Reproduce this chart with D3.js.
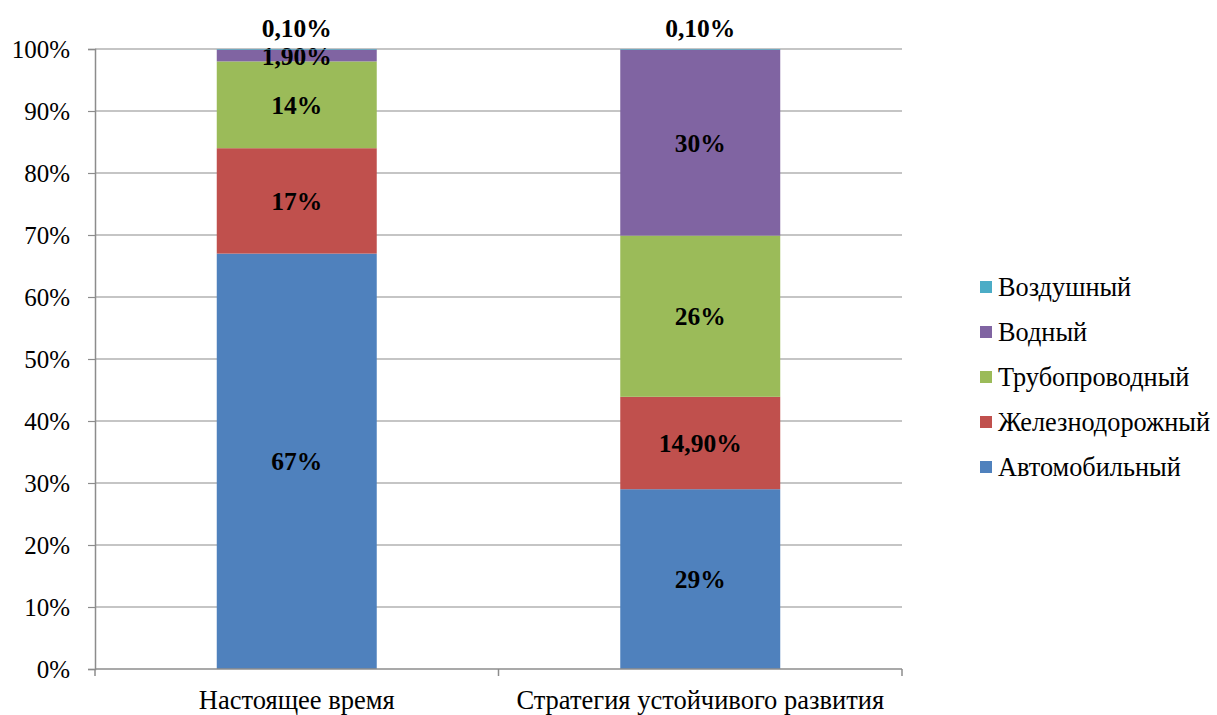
<!DOCTYPE html>
<html>
<head>
<meta charset="utf-8">
<script src="https://cdn.jsdelivr.net/npm/d3@7"></script>
<style>
  body { margin: 0; background: #fff; }
  svg text { font-family: "Liberation Serif", "Times New Roman", Times, Tinos, "Nimbus Roman", "DejaVu Serif", serif; }
</style>
</head>
<body>
<svg id="chart" width="1217" height="715"></svg>
<script>
// data
const categories = ['Настоящее время', 'Стратегия устойчивого развития'];
const seriesNames = ['Автомобильный', 'Железнодорожный', 'Трубопроводный', 'Водный', 'Воздушный'];
const automobile = [67, 29];
const railway = [17, 14.9];
const pipeline = [14, 26];
const water = [1.9, 30];
const air = [0.1, 0.1];
const valueLabels = [
    ['67%', '29%'],
    ['17%', '14,90%'],
    ['14%', '26%'],
    ['1,90%', '30%'],
    ['0,10%', '0,10%']
];
const yTicks = [0, 10, 20, 30, 40, 50, 60, 70, 80, 90, 100];

const colors = ['#4F81BD', '#C0504D', '#9BBB59', '#8064A2', '#4BACC6'];
const FONT = '"Liberation Serif", "Times New Roman", Times, Tinos, "Nimbus Roman", "DejaVu Serif", serif';

const MARGINS = { top: 49, bottom: 46, left: 95, right: 315 };
const WIDTH = 1217, HEIGHT = 715;

const svg = d3.select('#chart');

// build rows for stacking
const rows = categories.map((c, i) => ({
    category: c,
    s0: automobile[i], s1: railway[i], s2: pipeline[i], s3: water[i], s4: air[i]
}));
const stack = d3.stack().keys(['s0', 's1', 's2', 's3', 's4']);
const stacked = stack(rows);

const xScale = d3.scaleBand()
    .domain(categories)
    .range([MARGINS.left, WIDTH - MARGINS.right])
    .paddingInner(0.6035)
    .paddingOuter(0.30175);

const yScale = d3.scaleLinear()
    .domain([0, 100])
    .range([HEIGHT - MARGINS.bottom, MARGINS.top]);

// gridlines
svg.selectAll('line.grid')
    .data(yTicks.filter(d => d > 0))
    .join('line')
    .attr('class', 'grid')
    .attr('x1', MARGINS.left)
    .attr('x2', WIDTH - MARGINS.right)
    .attr('y1', d => yScale(d))
    .attr('y2', d => yScale(d))
    .attr('stroke', '#8c8c8c')
    .attr('stroke-width', 1.2);

// bars
const layers = svg.selectAll('g.layer')
    .data(stacked)
    .join('g')
    .attr('class', 'layer')
    .attr('fill', (d, i) => colors[i]);

layers.selectAll('rect')
    .data(d => d)
    .join('rect')
    .attr('x', d => xScale(d.data.category))
    .attr('y', d => yScale(d[1]))
    .attr('width', xScale.bandwidth())
    .attr('height', d => yScale(d[0]) - yScale(d[1]));

// y axis
const yAxis = d3.axisLeft(yScale)
    .tickValues(yTicks)
    .tickFormat(d => d + '%')
    .tickSize(7)
    .tickPadding(18);
const gy = svg.append('g')
    .attr('transform', `translate(${MARGINS.left},0)`)
    .call(yAxis)
    .attr('font-family', FONT);
gy.select('.domain').attr('stroke', '#8c8c8c').attr('stroke-width', 1.5);
gy.selectAll('.tick line').attr('stroke', '#8c8c8c').attr('stroke-width', 1.2);
gy.selectAll('.tick text')
    .attr('font-size', '25px')
    .attr('fill', '#000')
    .attr('dy', '0.33em');

// x axis
const gx = svg.append('g')
    .attr('transform', `translate(0,${HEIGHT - MARGINS.bottom})`);
gx.append('line')
    .attr('x1', MARGINS.left)
    .attr('x2', WIDTH - MARGINS.right)
    .attr('stroke', '#8c8c8c')
    .attr('stroke-width', 1.5);
const step = xScale.step();
const boundaries = [MARGINS.left].concat(categories.map(c => xScale(c) + xScale.bandwidth() / 2 + step / 2));
gx.selectAll('line.xtick')
    .data(boundaries)
    .join('line')
    .attr('class', 'xtick')
    .attr('x1', d => d).attr('x2', d => d)
    .attr('y1', 0).attr('y2', 7)
    .attr('stroke', '#8c8c8c')
    .attr('stroke-width', 1.5);
gx.selectAll('text')
    .data(categories)
    .join('text')
    .attr('x', d => xScale(d) + xScale.bandwidth() / 2)
    .attr('y', 40)
    .attr('text-anchor', 'middle')
    .attr('font-size', '26.5px')
    .attr('fill', '#000')
    .text(d => d);

// value labels
layers.each(function (layer, li) {
    d3.select(this).selectAll('text')
        .data(layer)
        .join('text')
        .attr('x', d => xScale(d.data.category) + xScale.bandwidth() / 2)
        .attr('y', d => li === 4 ? yScale(d[1]) - 12 : yScale((d[0] + d[1]) / 2) + 9)
        .attr('text-anchor', 'middle')
        .attr('font-size', '25.5px')
        .attr('font-weight', 'bold')
        .attr('fill', '#000')
        .text((d, i) => valueLabels[li][i]);
});

// legend
const legendOrder = [4, 3, 2, 1, 0];
const legend = svg.append('g')
    .attr('class', 'legend')
    .attr('transform', 'translate(980, 287)');
const items = legend.selectAll('g.item')
    .data(legendOrder)
    .join('g')
    .attr('class', 'item')
    .attr('transform', (d, i) => `translate(0, ${i * 45})`);
items.append('rect')
    .attr('x', 0)
    .attr('y', -6)
    .attr('width', 12)
    .attr('height', 12)
    .attr('fill', d => colors[d]);
items.append('text')
    .attr('x', 18)
    .attr('y', 8.5)
    .attr('font-size', '26.3px')
    .attr('fill', '#000')
    .text(d => seriesNames[d]);
</script>
</body>
</html>
